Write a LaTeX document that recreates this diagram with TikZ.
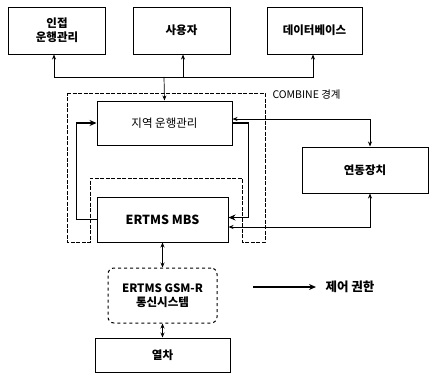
\documentclass[tikz,border=0pt]{standalone}
\usepackage{fontspec}
\setmainfont{Noto Sans CJK KR}
\usepackage{tikz}
\usetikzlibrary{arrows.meta, positioning}
\tikzstyle{block} = [rectangle, 
minimum width=97pt, 
minimum height=47pt, 
inner sep=1pt,
text centered, 
draw=black, 
line width=1pt,
font=\bfseries\fontsize{11.5}{14}\selectfont]
\tikzstyle{radio} = [block, 
rounded corners=6pt, 
dashed, 
align=center]
\tikzstyle{link} = [line width=0.7pt, -{Stealth[length=5pt,width=4pt]}]
\tikzstyle{both} = [line width=0.7pt, {Stealth[length=5pt,width=4pt]}-{Stealth[length=5pt,width=4pt]}]
\tikzstyle{control} = [line width=1.8pt, -{Stealth[length=7pt,width=6pt]}]
\tikzstyle{boundary} = [line width=0.5pt, dash pattern=on 4pt off 1.5pt]

\begin{document}
\begin{tikzpicture}[x=1pt, y=-1pt]
	\useasboundingbox (0,0) rectangle (430,388);
	
	% external systems
	\node (adj) [block, align=center] at (57,30.5) {인접\\운행관리};
	\node (user) [block] at (181.5,30.5) {사용자};
	\node (db) [block, minimum width=95pt] at (314.5,30.5) {데이터베이스};
	\coordinate (bus) at (164,77);
	
	% COMBINE
	\node (local) [block, minimum width=135pt, minimum height=44pt, font=\fontsize{11.5}{14}\selectfont] at (164.5,123) {지역 운행관리};
	\node (mbs) [block, minimum width=131pt, minimum height=45pt, font=\bfseries\fontsize{12.5}{14}\selectfont] at (162.5,219.5) {ERTMS MBS};
	\node (ilk) [block, minimum width=126pt, minimum height=46pt] at (365,170) {연동장치};
	\draw [boundary] (67,93) -- (265,93) -- (265,242) -- (242,242) -- (242,178)
		-- (90,178) -- (90,242) -- (67,242) -- cycle;
	\node (combine) [anchor=west, font=\fontsize{10.5}{12}\selectfont] at (269,95) {COMBINE 경계};
	
	% radio and train
	\node (gsmr) [radio, minimum width=109pt, minimum height=55pt] at (162.5,295.5) {ERTMS GSM-R\\통신시스템};
	\node (train) [block, minimum width=135pt, minimum height=34pt] at (162.5,355) {열차};
	
	% legend
	\coordinate (legA) at (253,287);
	\coordinate (legB) at (316,287);
	\node (legtext) [right=6pt of legB, font=\bfseries\fontsize{12.5}{14}\selectfont] {제어 권한};
	
	\draw [link] (bus) -| ([xshift=-3pt]adj.south);
	\draw [link] (bus) -| ([xshift=1.5pt]user.south);
	\draw [link] (bus) -| ([xshift=-1.5pt]db.south);
	\draw [link] (bus) -- (local.north);
	\draw [control] (mbs.west) -- ++(-20,0) |- (local.west);
	\draw [control] (local.east) -- ++(16,0) |- ([yshift=2pt]mbs.east);
	\draw [both] ([yshift=4pt]local.east) -| ([xshift=5pt]ilk.north);
	\draw [both] ([xshift=5pt]ilk.south) |- ([yshift=-7.5pt]mbs.east);
	\draw [both] (mbs) -- (gsmr);
	\draw [both] (gsmr) -- (train);
	\draw [control] (legA) -- (legB);
	
\end{tikzpicture}
\end{document}
